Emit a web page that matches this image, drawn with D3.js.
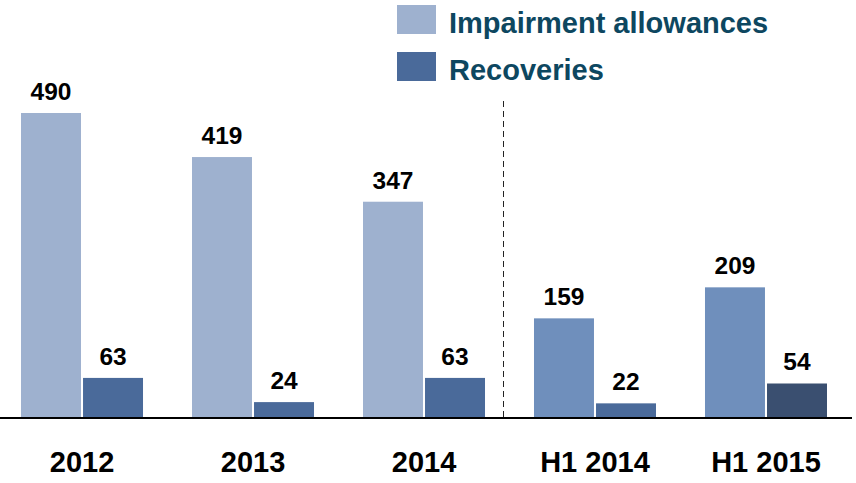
<!DOCTYPE html>
<html>
<head>
<meta charset="utf-8">
<script src="https://cdn.jsdelivr.net/npm/d3@7"></script>
<style>
  html, body { margin: 0; padding: 0; background: #fff; }
  svg { display: block; font-family: "Liberation Sans", Arial, sans-serif; font-weight: bold; }
</style>
</head>
<body>
<div id="chart"></div>
<script>
const periods = ["2012", "2013", "2014", "H1 2014", "H1 2015"];
const seriesNames = ["Impairment allowances", "Recoveries"];
const impairment = [490, 419, 347, 159, 209];
const recoveries = [63, 24, 63, 22, 54];

const width = 856, height = 483;
const baseline = 417;

const svg = d3.select("#chart")
    .append("svg")
    .attr("width", width)
    .attr("height", height);

const rows = periods.map((p, i) => ({
    period: p,
    values: [
        { key: seriesNames[0], value: impairment[i] },
        { key: seriesNames[1], value: recoveries[i] }
    ]
}));

const x0 = d3.scaleBand()
    .domain(periods)
    .range([-3.5, 851.5])
    .paddingInner(0.2865)
    .paddingOuter(0.1433);

const x1 = d3.scaleBand()
    .domain(seriesNames)
    .range([0, x0.bandwidth()])
    .paddingInner(0.033);

const y = d3.scaleLinear()
    .domain([0, 490])
    .range([baseline, 113]);

// colours: annual vs half-year periods
function barColor(period, key) {
    if (key === seriesNames[0]) return period.startsWith("H1") ? "#6f8fbc" : "#9eb1cf";
    return period === "H1 2015" ? "#3a4f70" : "#4a6a9a";
}

// divider between annual and half-year figures
const divX = Math.round(x0("H1 2014") - x0.step() * 0.181) + 0.5;
svg.append("line")
    .attr("x1", divX).attr("x2", divX)
    .attr("y1", 101).attr("y2", 421)
    .attr("stroke", "#222")
    .attr("stroke-width", 1)
    .attr("stroke-dasharray", "6,4");

const groups = svg.selectAll("g.group")
    .data(rows)
    .enter()
    .append("g")
    .attr("class", "group")
    .attr("transform", d => `translate(${x0(d.period)},0)`);

groups.selectAll("rect")
    .data(d => d.values.map(v => ({ ...v, period: d.period })))
    .enter()
    .append("rect")
    .attr("x", d => x1(d.key))
    .attr("y", d => y(d.value))
    .attr("width", x1.bandwidth())
    .attr("height", d => baseline - y(d.value))
    .attr("fill", d => barColor(d.period, d.key));

groups.selectAll("text.val")
    .data(d => d.values)
    .enter()
    .append("text")
    .attr("class", "val")
    .attr("x", d => x1(d.key) + x1.bandwidth() / 2)
    .attr("y", d => y(d.value) - 13)
    .attr("text-anchor", "middle")
    .attr("font-size", 24.5)
    .attr("fill", "#000")
    .text(d => d.value);

// x axis
const xAxis = svg.append("g")
    .attr("transform", `translate(0,${baseline})`)
    .call(d3.axisBottom(x0).tickSize(0));
xAxis.select(".domain")
    .attr("d", `M0,1H${width - 4}`)
    .attr("stroke", "#000")
    .attr("stroke-width", 2);
xAxis.selectAll(".tick text")
    .attr("font-size", 29)
    .attr("font-family", "'Liberation Sans', Arial, sans-serif")
    .attr("font-weight", "bold")
    .attr("fill", "#000")
    .attr("dy", null)
    .attr("y", 55);

// legend
const legend = svg.append("g")
    .selectAll("g")
    .data(seriesNames)
    .enter()
    .append("g")
    .attr("transform", (d, i) => `translate(397,${5 + i * 47})`);

legend.append("rect")
    .attr("width", 39)
    .attr("height", 29)
    .attr("fill", (d, i) => i === 0 ? "#9eb1cf" : "#4a6a9a");

legend.append("text")
    .attr("x", 52)
    .attr("y", 27.5)
    .attr("font-size", 29)
    .attr("fill", "#0d4760")
    .text(d => d);
</script>
</body>
</html>
